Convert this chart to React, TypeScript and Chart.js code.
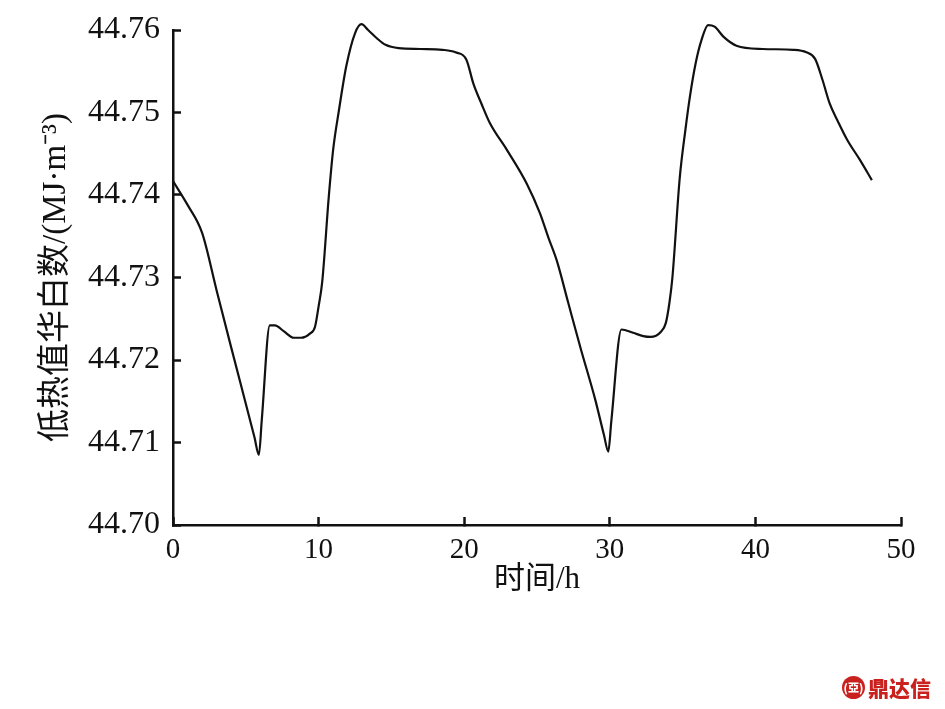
import React, { useEffect, useRef } from "react";
import { Chart, registerables } from "chart.js";

Chart.register(...registerables);

const hours = [
  0, 1.0, 2.0, 3.0, 4.0, 5.6, 5.9, 6.1, 6.65, 7.0, 7.6, 8.3, 8.8, 9.4, 9.75, 10.0, 10.25, 10.7, 11.0, 11.4,
  11.9, 12.5, 12.95, 13.4, 14.0, 14.6, 15.5, 17.0, 18.5, 19.4, 20.15, 20.63, 21.2, 21.77, 22.92, 24.29,
  25.2, 25.77, 26.35, 27.15, 28.0, 29.0, 29.6, 29.9, 30.1, 30.8, 31.6, 32.3, 32.8, 33.5, 33.85, 34.1,
  34.3, 34.8, 35.2, 35.5, 35.9, 36.3, 36.75, 37.2, 37.8, 38.7, 40.5, 42.6, 43.5, 44.1, 44.6, 45.1,
  45.7, 46.3, 47.2, 48.0,
];
const heatValues = [
  44.7417, 44.7388, 44.7354, 44.7284, 44.7215, 44.7106, 44.7085, 44.7128, 44.7242, 44.7242, 44.7235,
  44.7227, 44.7227, 44.7232, 44.724, 44.7265, 44.7295, 44.7398, 44.7455, 44.7503, 44.7556, 44.7596,
  44.7607, 44.76, 44.759, 44.7582, 44.7578, 44.7577, 44.7576, 44.7573, 44.7564, 44.7535, 44.751,
  44.7487, 44.7455, 44.7414, 44.7378, 44.7349, 44.7321, 44.7269, 44.7214, 44.7152, 44.7109, 44.7089,
  44.7125, 44.7237, 44.7233, 44.7229, 44.7228, 44.7234, 44.7245, 44.727, 44.73, 44.742, 44.748,
  44.7519, 44.756, 44.7588, 44.7606, 44.7604, 44.7592, 44.7581, 44.7577, 44.7576, 44.7573, 44.7565,
  44.754, 44.7511, 44.7488, 44.7467, 44.7442, 44.7418,
];
const xTicks = [0, 10, 20, 30, 40, 50];
const yTicks = [44.7, 44.71, 44.72, 44.73, 44.74, 44.75, 44.76];

const xTitle = "时间/h";
const yTitle = "低热值华白数/(MJ·m⁻³)";

const FONT = '"Liberation Serif", "Times New Roman", "Noto Sans CJK SC", serif';

export default function App() {
  const ref = useRef<HTMLCanvasElement | null>(null);

  useEffect(() => {
    document.body.style.margin = "0";
    const canvas = ref.current;
    if (!canvas) return;
    const chart = new Chart(canvas, {
      type: "line",
      data: {
        datasets: [
          {
            data: hours.map((h, i) => ({ x: h, y: heatValues[i] })),
            borderColor: "#111",
            borderWidth: 2.2,
            pointRadius: 0,
            fill: false,
            cubicInterpolationMode: "monotone",
            clip: false,
            borderJoinStyle: "round",
          },
        ],
      },
      options: {
        responsive: false,
        animation: false,
        devicePixelRatio: 1,
        layout: { padding: { left: 0, right: 44, top: 30, bottom: 0 } },
        plugins: { legend: { display: false }, tooltip: { enabled: false } },
        scales: {
          x: {
            type: "linear",
            min: 0,
            max: 50,
            afterBuildTicks: (s: any) => {
              s.ticks = xTicks.map((v) => ({ value: v }));
            },
            afterFit: (s: any) => {
              s.height = 184;
              s.paddingLeft = 0;
              s.paddingRight = 0;
            },
            border: { color: "#111", width: 2.5 },
            grid: { drawOnChartArea: false, tickLength: -8, tickWidth: 2.5, tickColor: "#111" },
            ticks: {
              color: "#111",
              font: { family: FONT, size: 29 },
              padding: 16,
              maxRotation: 0,
              callback: (v: any) => String(v),
            },
            title: {
              display: true,
              text: xTitle,
              color: "#111",
              font: { family: FONT, size: 31 },
              padding: { top: 0, bottom: 111 },
            },
          },
          y: {
            type: "linear",
            min: 44.7,
            max: 44.76,
            afterBuildTicks: (s: any) => {
              s.ticks = yTicks.map((v) => ({ value: v }));
            },
            afterFit: (s: any) => {
              s.width = 173;
              s.paddingTop = 0;
              s.paddingBottom = 0;
            },
            border: { color: "#111", width: 2.5 },
            grid: { drawOnChartArea: false, tickLength: -8, tickWidth: 2.5, tickColor: "#111" },
            ticks: {
              color: "#111",
              font: { family: FONT, size: 32 },
              padding: 21,
              callback: (v: any) => Number(v).toFixed(2),
            },
            title: {
              display: true,
              text: yTitle,
              color: "#111",
              font: { family: FONT, size: 33 },
              padding: { top: 37, bottom: 0 },
            },
          },
        },
      },
    });
    return () => chart.destroy();
  }, []);

  return (
    <div style={{ position: "relative", width: 945, height: 709, background: "#fff" }}>
      <canvas ref={ref} width={945} height={709} style={{ display: "block" }} />
      <div
        style={{
          position: "absolute",
          left: 842,
          top: 674,
          display: "flex",
          alignItems: "center",
          gap: 3,
          color: "#c9211e",
          fontFamily: '"Noto Sans CJK SC", sans-serif',
          fontWeight: 900,
          fontSize: 21,
          lineHeight: "26px",
        }}
      >
        <span
          style={{
            display: "inline-block",
            width: 23,
            height: 23,
            borderRadius: "50%",
            background: "#c9211e",
            color: "#fff",
            fontSize: 11,
            lineHeight: "23px",
            textAlign: "center",
          }}
        >
          {"(亞)"}
        </span>
        <span>鼎达信</span>
      </div>
    </div>
  );
}
